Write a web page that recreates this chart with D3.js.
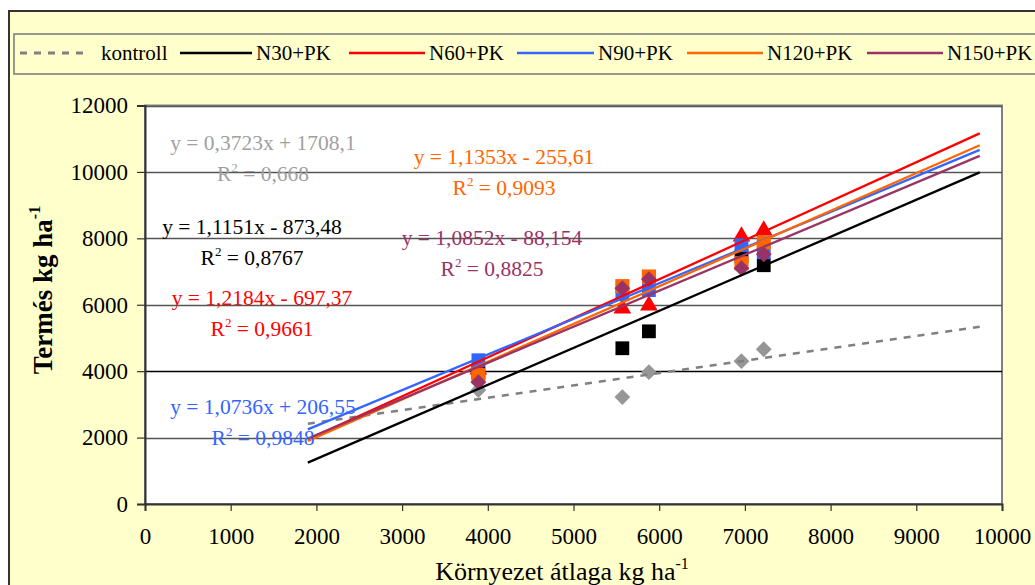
<!DOCTYPE html>
<html lang="hu">
<head>
<meta charset="UTF-8">
<title>Termés vs környezet átlaga</title>
<script src="https://d3js.org/d3.v7.min.js"></script>
<style>
  html, body { margin: 0; padding: 0; background: #ffffff; }
  svg { display: block; font-family: "Liberation Serif", "Times New Roman", serif; }
</style>
</head>
<body>
<div id="chart"></div>
<script>
// environment means (x) shared by every series
const envMeans = [3890, 5570, 5880, 6960, 7220];

// yields per treatment
const kontroll = [3430, 3220, 3970, 4300, 4660];
const n30 = [3970, 4690, 5200, 7460, 7190];
const n60 = [4050, 5890, 5980, 8060, 8240];
const n90 = [4330, 6320, 6440, 7790, 7580];
const n120 = [3880, 6560, 6850, 7250, 7880];
const n150 = [3670, 6500, 6770, 7100, 7520];

// trendline equations as printed on the chart
const slopes = [0.3723, 1.1151, 1.2184, 1.0736, 1.1353, 1.0852];
const intercepts = [1708.1, -873.48, -697.37, 206.55, -255.61, -88.154];
const r2 = ["0,668", "0,8767", "0,9661", "0,9848", "0,9093", "0,8825"];
// trendlines as actually drawn (red one differs from its label)
const lineSlopes = [0.3723, 1.1151, 1.1747, 1.0736, 1.1353, 1.0852];
const lineIntercepts = [1708.1, -873.48, -282, 206.55, -255.61, -88.154];
const trendRange = [1900, 9740];

const seriesNames = ["kontroll", "N30+PK", "N60+PK", "N90+PK", "N120+PK", "N150+PK"];
const xTicks = [0, 1000, 2000, 3000, 4000, 5000, 6000, 7000, 8000, 9000, 10000];
const yTicks = [0, 2000, 4000, 6000, 8000, 10000, 12000];

const colors = ["#808080", "#000000", "#ff0000", "#3366ff", "#ff6600", "#993366"];
const markerColors = ["#969696", "#000000", "#ff0000", "#3366ff", "#ff6600", "#993366"];
const labelColors = ["#a0a0a0", "#000000", "#ff0000", "#3366ff", "#ff6600", "#993366"];
const symbols = [d3.symbolSquare, d3.symbolSquare, d3.symbolTriangle, d3.symbolSquare, d3.symbolSquare, d3.symbolSquare];
const symRotate = [45, 0, 0, 0, 0, 45];
const symSize = [125, 190, 135, 190, 200, 125];

// where the equation labels sit (centre x, centre y of first line)
const labelPos = [[263, 143], [252, 227], [262, 298], [263, 407], [504, 157], [492, 238]];

const allSeries = [kontroll, n30, n60, n90, n120, n150];

const W = 1035, H = 585;
const svg = d3.select("#chart").append("svg").attr("width", W).attr("height", H);

// outer chart background
svg.append("rect").attr("x", 9).attr("y", 11).attr("width", W + 10).attr("height", H + 10)
  .attr("fill", "#ffffcc").attr("stroke", "#333").attr("stroke-width", 2);

const plot = { left: 145, top: 105.5, right: 1002, bottom: 504 };

const x = d3.scaleLinear().domain([0, 10000]).range([plot.left, plot.right]);
const y = d3.scaleLinear().domain([0, 12000]).range([plot.bottom, plot.top]);

svg.append("rect").attr("x", plot.left).attr("y", plot.top)
  .attr("width", plot.right - plot.left).attr("height", plot.bottom - plot.top)
  .attr("fill", "#fff").attr("stroke", "#808080").attr("stroke-width", 2);

// gridlines
svg.append("g").selectAll("line").data(yTicks.filter(d => d > 0)).enter().append("line")
  .attr("x1", plot.left).attr("x2", plot.right)
  .attr("y1", d => Math.round(y(d)) + 0.5).attr("y2", d => Math.round(y(d)) + 0.5)
  .attr("stroke", d => d === 4000 ? "#000" : "#555").attr("stroke-width", 1.3);

// axes
const yAxis = svg.append("g").attr("transform", `translate(${plot.left},0)`)
  .call(d3.axisLeft(y).tickValues(yTicks).tickSize(8).tickPadding(9).tickFormat(d3.format("d")));
const xAxis = svg.append("g").attr("transform", `translate(0,${plot.bottom})`)
  .call(d3.axisBottom(x).tickValues(xTicks).tickSize(7).tickPadding(17).tickFormat(d3.format("d")));
[xAxis, yAxis].forEach(a => {
  a.attr("font-family", null).attr("font-size", null);
  a.select(".domain").attr("stroke", "#333").attr("stroke-width", 2);
  a.selectAll(".tick line").attr("stroke", "#333").attr("stroke-width", 1.2);
  a.selectAll("text").attr("font-size", 23).attr("fill", "#000");
});

// markers
allSeries.forEach((vals, i) => {
  svg.append("g").selectAll("path").data(vals).enter().append("path")
    .attr("d", d3.symbol().type(symbols[i]).size(symSize[i]))
    .attr("transform", (d, j) => `translate(${x(envMeans[j])},${y(d)}) rotate(${symRotate[i]})`)
    .attr("fill", markerColors[i]);
});

// trendlines
const line = d3.line().x(d => x(d[0])).y(d => y(d[1]));
lineSlopes.forEach((m, i) => {
  const pts = trendRange.map(v => [v, m * v + lineIntercepts[i]]);
  svg.append("path").attr("d", line(pts)).attr("fill", "none")
    .attr("stroke", colors[i]).attr("stroke-width", i === 0 ? 2.5 : 2.3)
    .attr("stroke-dasharray", i === 0 ? "7,7" : null);
});

// equation labels
const fmt = v => Math.abs(v).toString().replace(".", ",");
slopes.forEach((m, i) => {
  const b = intercepts[i];
  const eq = `y = ${fmt(m)}x ${b < 0 ? "-" : "+"} ${fmt(b)}`;
  const [cx, cy] = labelPos[i];
  svg.append("text").attr("x", cx).attr("y", cy + 7).attr("text-anchor", "middle")
    .attr("font-size", 21.5).attr("fill", labelColors[i]).text(eq);
  const t = svg.append("text").attr("x", cx).attr("y", cy + 38).attr("text-anchor", "middle")
    .attr("font-size", 21.5).attr("fill", labelColors[i]);
  t.append("tspan").text("R");
  t.append("tspan").attr("dy", -9).attr("font-size", 13).text("2");
  t.append("tspan").attr("dy", 9).text(" = " + r2[i]);
});

// axis titles
const xt = svg.append("text").attr("x", 562).attr("y", 580).attr("text-anchor", "middle")
  .attr("font-size", 26).attr("fill", "#000");
xt.append("tspan").text("Környezet átlaga kg ha");
xt.append("tspan").attr("dy", -11).attr("font-size", 16).text("-1");

const yt = svg.append("text").attr("transform", "translate(52,290) rotate(-90)")
  .attr("text-anchor", "middle").attr("font-size", 27).attr("font-weight", "bold").attr("fill", "#000");
yt.append("tspan").text("Termés kg ha");
yt.append("tspan").attr("dy", -12).attr("font-size", 16).text("-1");

// legend
svg.append("rect").attr("x", 14).attr("y", 34).attr("width", W).attr("height", 40)
  .attr("fill", "#ffffcc").attr("stroke", "#777").attr("stroke-width", 1.5);
const legendX = [20, 180, 349, 517, 687, 867];
const legendLen = [68, 72, 76, 77, 76, 76];
seriesNames.forEach((name, i) => {
  svg.append("line").attr("x1", legendX[i]).attr("x2", legendX[i] + legendLen[i])
    .attr("y1", 53).attr("y2", 53).attr("stroke", colors[i]).attr("stroke-width", i === 0 ? 3 : 2.5)
    .attr("stroke-dasharray", i === 0 ? "7,7" : null);
  svg.append("text").attr("x", legendX[i] + legendLen[i] + (i === 0 ? 13 : 4)).attr("y", 60)
    .attr("font-size", 21).attr("fill", "#000").text(name);
});
</script>
</body>
</html>
